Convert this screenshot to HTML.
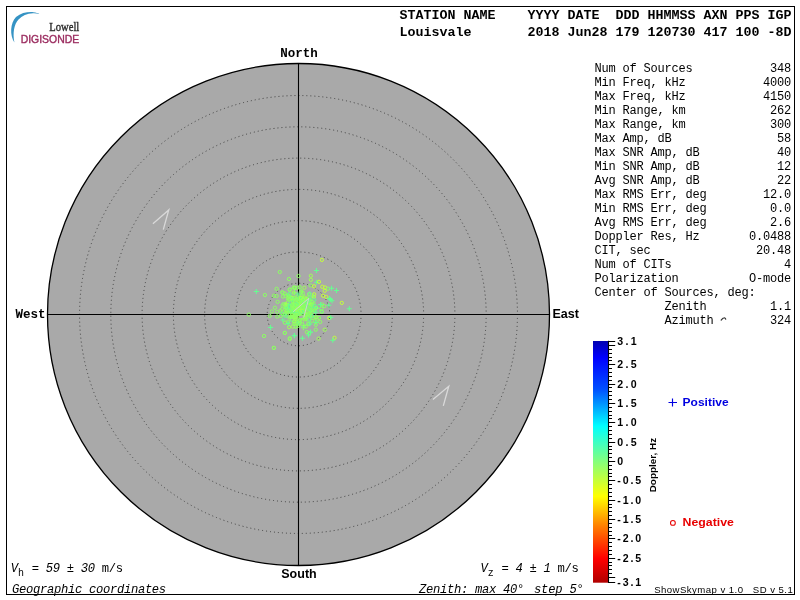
<!DOCTYPE html>
<html><head><meta charset="utf-8"><style>
html,body{margin:0;padding:0;background:#fff;width:800px;height:600px;overflow:hidden}
svg{display:block;will-change:transform}
.m{font-family:"Liberation Mono",monospace}
.s{font-family:"Liberation Sans",sans-serif}
.r{font-family:"Liberation Serif",serif}
</style></head><body>
<svg width="800" height="600" viewBox="0 0 800 600">
<rect x="0" y="0" width="800" height="600" fill="#fff"/>
<rect x="6.5" y="6.5" width="788" height="588" fill="none" stroke="#000" stroke-width="1"/>

<path d="M14.4 42.4 C 9.6 35, 10.2 23, 16 17 C 21 12.8, 28 11.7, 33.5 12.2 C 36 12.5, 38 13, 39.4 13.9 C 37 13.3, 35 13.1, 33 13.2 C 27 13.5, 22 15.5, 18.5 19.5 C 14 24.5, 12.6 33, 14.4 42.4 Z" fill="#3593c4"/>
<text class="r" x="79.3" y="31" font-size="11.6" fill="#2b2b2b" stroke="#2b2b2b" stroke-width="0.35" text-anchor="end" textLength="30" lengthAdjust="spacingAndGlyphs">Lowell</text>
<text class="s" x="79.2" y="43.2" font-size="11.6" fill="#9a2a5e" stroke="#9a2a5e" stroke-width="0.4" text-anchor="end" textLength="58.5" lengthAdjust="spacingAndGlyphs">DIGISONDE</text>
<text class="m" x="399.5" y="19" font-size="13.33" font-weight="bold" xml:space="preserve">STATION NAME    YYYY DATE  DDD HHMMSS AXN PPS IGP</text>
<text class="m" x="399.5" y="36" font-size="13.33" font-weight="bold" xml:space="preserve">Louisvale       2018 Jun28 179 120730 417 100 -8D</text>
<circle cx="298.5" cy="314.5" r="251" fill="#a9a9a9" stroke="#000" stroke-width="1.3"/>
<circle cx="298.5" cy="314.5" r="31.280" fill="none" stroke="#404040" stroke-width="1" stroke-dasharray="1 3.0110" stroke-dashoffset="0.5"/>
<circle cx="298.5" cy="314.5" r="62.560" fill="none" stroke="#404040" stroke-width="1" stroke-dasharray="1 3.0110" stroke-dashoffset="0.5"/>
<circle cx="298.5" cy="314.5" r="93.840" fill="none" stroke="#404040" stroke-width="1" stroke-dasharray="1 3.0110" stroke-dashoffset="0.5"/>
<circle cx="298.5" cy="314.5" r="125.120" fill="none" stroke="#404040" stroke-width="1" stroke-dasharray="1 2.9906" stroke-dashoffset="0.5"/>
<circle cx="298.5" cy="314.5" r="156.400" fill="none" stroke="#404040" stroke-width="1" stroke-dasharray="1 2.9947" stroke-dashoffset="0.5"/>
<circle cx="298.5" cy="314.5" r="187.680" fill="none" stroke="#404040" stroke-width="1" stroke-dasharray="1 2.9974" stroke-dashoffset="0.5"/>
<circle cx="298.5" cy="314.5" r="218.960" fill="none" stroke="#404040" stroke-width="1" stroke-dasharray="1 2.9993" stroke-dashoffset="0.5"/>
<line x1="298.5" y1="63.5" x2="298.5" y2="565.5" stroke="#000" stroke-width="1.1"/>
<line x1="47.5" y1="314.5" x2="549.5" y2="314.5" stroke="#000" stroke-width="1.1"/>
<text class="m" x="299" y="56.5" font-size="12.5" font-weight="bold" text-anchor="middle">North</text>
<text class="s" x="299" y="578" font-size="12.5" font-weight="bold" text-anchor="middle">South</text>
<text class="m" x="45.5" y="318" font-size="12.5" font-weight="bold" text-anchor="end">West</text>
<text class="s" x="552.5" y="318" font-size="12.5" font-weight="bold">East</text>
<polyline points="152.9,223.75 168.75,210 163.3,229.6" fill="none" stroke="#d9d9d9" stroke-width="1.3"/>
<polyline points="432.9,399.6 448.75,386.25 443.3,405.8" fill="none" stroke="#d9d9d9" stroke-width="1.3"/>
<path d="M285.5 311.6h5M288.0 309.1v5" stroke="#a0ff58" stroke-width="1.05"/>
<circle cx="282.1" cy="313.6" r="1.65" fill="none" stroke="#64ff90" stroke-width="1"/>
<circle cx="286.7" cy="310.0" r="1.65" fill="none" stroke="#a0ff58" stroke-width="1"/>
<circle cx="297.7" cy="311.9" r="1.65" fill="none" stroke="#8cff64" stroke-width="1"/>
<circle cx="291.5" cy="302.6" r="1.65" fill="none" stroke="#64ff90" stroke-width="1"/>
<circle cx="291.6" cy="297.3" r="1.65" fill="none" stroke="#8cff64" stroke-width="1"/>
<circle cx="304.4" cy="310.3" r="1.65" fill="none" stroke="#8cff64" stroke-width="1"/>
<circle cx="300.4" cy="299.7" r="1.65" fill="none" stroke="#8cff64" stroke-width="1"/>
<circle cx="286.2" cy="306.4" r="1.65" fill="none" stroke="#8cff64" stroke-width="1"/>
<path d="M289.5 310.0h5M292.0 307.5v5" stroke="#8cff64" stroke-width="1.05"/>
<circle cx="296.9" cy="300.0" r="1.65" fill="none" stroke="#8cff64" stroke-width="1"/>
<circle cx="310.4" cy="310.3" r="1.65" fill="none" stroke="#8cff64" stroke-width="1"/>
<path d="M301.6 300.3h5M304.1 297.8v5" stroke="#8cff64" stroke-width="1.05"/>
<circle cx="307.3" cy="311.0" r="1.65" fill="none" stroke="#a0ff58" stroke-width="1"/>
<circle cx="310.4" cy="313.9" r="1.65" fill="none" stroke="#8cff64" stroke-width="1"/>
<circle cx="295.0" cy="315.0" r="1.65" fill="none" stroke="#a0ff58" stroke-width="1"/>
<circle cx="299.2" cy="303.2" r="1.65" fill="none" stroke="#8cff64" stroke-width="1"/>
<circle cx="309.0" cy="308.7" r="1.65" fill="none" stroke="#64ff90" stroke-width="1"/>
<path d="M300.6 318.5h5M303.1 316.0v5" stroke="#8cff64" stroke-width="1.05"/>
<circle cx="291.3" cy="312.5" r="1.65" fill="none" stroke="#8cff64" stroke-width="1"/>
<path d="M314.5 308.1h5M317.0 305.6v5" stroke="#64ff90" stroke-width="1.05"/>
<circle cx="292.8" cy="326.6" r="1.65" fill="none" stroke="#a0ff58" stroke-width="1"/>
<circle cx="311.2" cy="307.7" r="1.65" fill="none" stroke="#8cff64" stroke-width="1"/>
<circle cx="305.2" cy="307.6" r="1.65" fill="none" stroke="#64ff90" stroke-width="1"/>
<circle cx="295.4" cy="315.0" r="1.65" fill="none" stroke="#8cff64" stroke-width="1"/>
<circle cx="302.3" cy="321.1" r="1.65" fill="none" stroke="#8cff64" stroke-width="1"/>
<path d="M289.7 315.5h5M292.2 313.0v5" stroke="#a0ff58" stroke-width="1.05"/>
<circle cx="301.4" cy="303.5" r="1.65" fill="none" stroke="#8cff64" stroke-width="1"/>
<circle cx="296.6" cy="314.3" r="1.65" fill="none" stroke="#8cff64" stroke-width="1"/>
<circle cx="305.9" cy="319.2" r="1.65" fill="none" stroke="#a0ff58" stroke-width="1"/>
<circle cx="308.0" cy="299.3" r="1.65" fill="none" stroke="#8cff64" stroke-width="1"/>
<circle cx="307.4" cy="315.2" r="1.65" fill="none" stroke="#a0ff58" stroke-width="1"/>
<circle cx="298.3" cy="325.7" r="1.65" fill="none" stroke="#8cff64" stroke-width="1"/>
<circle cx="303.6" cy="307.3" r="1.65" fill="none" stroke="#64ff90" stroke-width="1"/>
<path d="M291.0 302.9h5M293.5 300.4v5" stroke="#8cff64" stroke-width="1.05"/>
<circle cx="299.0" cy="304.4" r="1.65" fill="none" stroke="#8cff64" stroke-width="1"/>
<circle cx="304.2" cy="310.2" r="1.65" fill="none" stroke="#64ff90" stroke-width="1"/>
<circle cx="302.9" cy="307.3" r="1.65" fill="none" stroke="#a0ff58" stroke-width="1"/>
<circle cx="312.1" cy="306.3" r="1.65" fill="none" stroke="#64ff90" stroke-width="1"/>
<path d="M307.9 303.8h5M310.4 301.3v5" stroke="#a0ff58" stroke-width="1.05"/>
<path d="M308.3 300.1h5M310.8 297.6v5" stroke="#8cff64" stroke-width="1.05"/>
<circle cx="296.1" cy="305.8" r="1.65" fill="none" stroke="#8cff64" stroke-width="1"/>
<circle cx="309.1" cy="313.4" r="1.65" fill="none" stroke="#8cff64" stroke-width="1"/>
<circle cx="304.4" cy="287.7" r="1.65" fill="none" stroke="#a0ff58" stroke-width="1"/>
<circle cx="313.8" cy="296.8" r="1.65" fill="none" stroke="#c4ff3c" stroke-width="1"/>
<circle cx="306.7" cy="298.6" r="1.65" fill="none" stroke="#a0ff58" stroke-width="1"/>
<circle cx="298.0" cy="309.0" r="1.65" fill="none" stroke="#8cff64" stroke-width="1"/>
<circle cx="309.6" cy="297.5" r="1.65" fill="none" stroke="#64ff90" stroke-width="1"/>
<circle cx="289.3" cy="310.8" r="1.65" fill="none" stroke="#64ff90" stroke-width="1"/>
<circle cx="299.0" cy="305.7" r="1.65" fill="none" stroke="#a0ff58" stroke-width="1"/>
<circle cx="321.4" cy="311.3" r="1.65" fill="none" stroke="#64ff90" stroke-width="1"/>
<path d="M290.9 298.7h5M293.4 296.2v5" stroke="#8cff64" stroke-width="1.05"/>
<circle cx="294.7" cy="321.6" r="1.65" fill="none" stroke="#8cff64" stroke-width="1"/>
<path d="M296.7 299.3h5M299.2 296.8v5" stroke="#a0ff58" stroke-width="1.05"/>
<circle cx="305.2" cy="302.7" r="1.65" fill="none" stroke="#8cff64" stroke-width="1"/>
<circle cx="288.2" cy="295.2" r="1.65" fill="none" stroke="#8cff64" stroke-width="1"/>
<circle cx="305.5" cy="301.6" r="1.65" fill="none" stroke="#8cff64" stroke-width="1"/>
<circle cx="300.2" cy="312.9" r="1.65" fill="none" stroke="#8cff64" stroke-width="1"/>
<circle cx="298.1" cy="313.7" r="1.65" fill="none" stroke="#8cff64" stroke-width="1"/>
<circle cx="314.2" cy="299.9" r="1.65" fill="none" stroke="#64ff90" stroke-width="1"/>
<circle cx="291.2" cy="308.3" r="1.65" fill="none" stroke="#64ff90" stroke-width="1"/>
<circle cx="295.6" cy="309.1" r="1.65" fill="none" stroke="#64ff90" stroke-width="1"/>
<circle cx="312.7" cy="311.8" r="1.65" fill="none" stroke="#8cff64" stroke-width="1"/>
<circle cx="292.1" cy="298.1" r="1.65" fill="none" stroke="#a0ff58" stroke-width="1"/>
<circle cx="297.1" cy="308.6" r="1.65" fill="none" stroke="#8cff64" stroke-width="1"/>
<path d="M299.4 291.3h5M301.9 288.8v5" stroke="#8cff64" stroke-width="1.05"/>
<circle cx="287.0" cy="312.4" r="1.65" fill="none" stroke="#8cff64" stroke-width="1"/>
<circle cx="312.2" cy="304.3" r="1.65" fill="none" stroke="#a0ff58" stroke-width="1"/>
<circle cx="298.5" cy="323.0" r="1.65" fill="none" stroke="#64ff90" stroke-width="1"/>
<circle cx="297.7" cy="302.2" r="1.65" fill="none" stroke="#8cff64" stroke-width="1"/>
<circle cx="308.4" cy="323.5" r="1.65" fill="none" stroke="#8cff64" stroke-width="1"/>
<circle cx="316.8" cy="319.5" r="1.65" fill="none" stroke="#8cff64" stroke-width="1"/>
<path d="M290.8 309.9h5M293.3 307.4v5" stroke="#8cff64" stroke-width="1.05"/>
<path d="M288.2 316.6h5M290.7 314.1v5" stroke="#8cff64" stroke-width="1.05"/>
<circle cx="286.3" cy="311.1" r="1.65" fill="none" stroke="#8cff64" stroke-width="1"/>
<path d="M300.9 327.8h5M303.4 325.3v5" stroke="#8cff64" stroke-width="1.05"/>
<circle cx="283.5" cy="304.1" r="1.65" fill="none" stroke="#8cff64" stroke-width="1"/>
<circle cx="296.8" cy="311.2" r="1.65" fill="none" stroke="#64ff90" stroke-width="1"/>
<path d="M290.1 311.6h5M292.6 309.1v5" stroke="#8cff64" stroke-width="1.05"/>
<circle cx="300.2" cy="304.8" r="1.65" fill="none" stroke="#8cff64" stroke-width="1"/>
<path d="M283.1 305.0h5M285.6 302.5v5" stroke="#a0ff58" stroke-width="1.05"/>
<circle cx="305.5" cy="317.2" r="1.65" fill="none" stroke="#a0ff58" stroke-width="1"/>
<path d="M306.4 304.3h5M308.9 301.8v5" stroke="#8cff64" stroke-width="1.05"/>
<circle cx="299.5" cy="297.8" r="1.65" fill="none" stroke="#64ff90" stroke-width="1"/>
<circle cx="292.0" cy="299.1" r="1.65" fill="none" stroke="#64ff90" stroke-width="1"/>
<path d="M296.0 322.2h5M298.5 319.7v5" stroke="#64ff90" stroke-width="1.05"/>
<path d="M301.1 325.9h5M303.6 323.4v5" stroke="#64ff90" stroke-width="1.05"/>
<circle cx="297.5" cy="319.0" r="1.65" fill="none" stroke="#8cff64" stroke-width="1"/>
<circle cx="286.7" cy="307.7" r="1.65" fill="none" stroke="#8cff64" stroke-width="1"/>
<circle cx="289.9" cy="307.0" r="1.65" fill="none" stroke="#64ff90" stroke-width="1"/>
<circle cx="301.9" cy="310.9" r="1.65" fill="none" stroke="#64ff90" stroke-width="1"/>
<circle cx="301.9" cy="298.8" r="1.65" fill="none" stroke="#a0ff58" stroke-width="1"/>
<circle cx="305.7" cy="315.3" r="1.65" fill="none" stroke="#a0ff58" stroke-width="1"/>
<circle cx="294.7" cy="307.3" r="1.65" fill="none" stroke="#8cff64" stroke-width="1"/>
<circle cx="303.2" cy="305.7" r="1.65" fill="none" stroke="#8cff64" stroke-width="1"/>
<circle cx="304.1" cy="309.2" r="1.65" fill="none" stroke="#8cff64" stroke-width="1"/>
<circle cx="295.3" cy="316.0" r="1.65" fill="none" stroke="#8cff64" stroke-width="1"/>
<path d="M284.6 308.0h5M287.1 305.5v5" stroke="#64ff90" stroke-width="1.05"/>
<circle cx="299.0" cy="314.3" r="1.65" fill="none" stroke="#a0ff58" stroke-width="1"/>
<circle cx="311.6" cy="310.0" r="1.65" fill="none" stroke="#64ff90" stroke-width="1"/>
<circle cx="302.3" cy="313.4" r="1.65" fill="none" stroke="#8cff64" stroke-width="1"/>
<circle cx="285.5" cy="295.9" r="1.65" fill="none" stroke="#8cff64" stroke-width="1"/>
<circle cx="305.4" cy="303.2" r="1.65" fill="none" stroke="#8cff64" stroke-width="1"/>
<circle cx="302.7" cy="304.7" r="1.65" fill="none" stroke="#8cff64" stroke-width="1"/>
<circle cx="298.8" cy="312.3" r="1.65" fill="none" stroke="#a0ff58" stroke-width="1"/>
<circle cx="285.5" cy="304.0" r="1.65" fill="none" stroke="#8cff64" stroke-width="1"/>
<circle cx="308.6" cy="315.0" r="1.65" fill="none" stroke="#8cff64" stroke-width="1"/>
<circle cx="307.0" cy="315.5" r="1.65" fill="none" stroke="#64ff90" stroke-width="1"/>
<circle cx="316.0" cy="307.8" r="1.65" fill="none" stroke="#a0ff58" stroke-width="1"/>
<circle cx="301.0" cy="309.6" r="1.65" fill="none" stroke="#64ff90" stroke-width="1"/>
<circle cx="307.5" cy="301.9" r="1.65" fill="none" stroke="#8cff64" stroke-width="1"/>
<path d="M301.4 325.4h5M303.9 322.9v5" stroke="#8cff64" stroke-width="1.05"/>
<circle cx="294.8" cy="305.5" r="1.65" fill="none" stroke="#8cff64" stroke-width="1"/>
<circle cx="299.7" cy="299.6" r="1.65" fill="none" stroke="#64ff90" stroke-width="1"/>
<circle cx="295.2" cy="313.2" r="1.65" fill="none" stroke="#8cff64" stroke-width="1"/>
<circle cx="302.2" cy="303.0" r="1.65" fill="none" stroke="#8cff64" stroke-width="1"/>
<circle cx="294.1" cy="311.5" r="1.65" fill="none" stroke="#64ff90" stroke-width="1"/>
<circle cx="301.1" cy="299.9" r="1.65" fill="none" stroke="#a0ff58" stroke-width="1"/>
<circle cx="293.7" cy="305.4" r="1.65" fill="none" stroke="#8cff64" stroke-width="1"/>
<path d="M298.8 301.1h5M301.3 298.6v5" stroke="#8cff64" stroke-width="1.05"/>
<path d="M300.1 299.1h5M302.6 296.6v5" stroke="#64ff90" stroke-width="1.05"/>
<circle cx="293.8" cy="292.7" r="1.65" fill="none" stroke="#a0ff58" stroke-width="1"/>
<circle cx="300.5" cy="313.9" r="1.65" fill="none" stroke="#8cff64" stroke-width="1"/>
<circle cx="297.7" cy="308.3" r="1.65" fill="none" stroke="#64ff90" stroke-width="1"/>
<path d="M303.3 310.3h5M305.8 307.8v5" stroke="#8cff64" stroke-width="1.05"/>
<circle cx="292.1" cy="319.9" r="1.65" fill="none" stroke="#64ff90" stroke-width="1"/>
<circle cx="308.6" cy="313.3" r="1.65" fill="none" stroke="#8cff64" stroke-width="1"/>
<path d="M291.9 292.7h5M294.4 290.2v5" stroke="#8cff64" stroke-width="1.05"/>
<circle cx="302.2" cy="311.0" r="1.65" fill="none" stroke="#a0ff58" stroke-width="1"/>
<circle cx="296.6" cy="309.8" r="1.65" fill="none" stroke="#a0ff58" stroke-width="1"/>
<circle cx="305.9" cy="308.5" r="1.65" fill="none" stroke="#8cff64" stroke-width="1"/>
<path d="M286.3 304.5h5M288.8 302.0v5" stroke="#64ff90" stroke-width="1.05"/>
<circle cx="301.3" cy="304.4" r="1.65" fill="none" stroke="#8cff64" stroke-width="1"/>
<path d="M283.8 303.7h5M286.3 301.2v5" stroke="#a0ff58" stroke-width="1.05"/>
<circle cx="303.8" cy="305.6" r="1.65" fill="none" stroke="#8cff64" stroke-width="1"/>
<circle cx="305.9" cy="298.7" r="1.65" fill="none" stroke="#a0ff58" stroke-width="1"/>
<circle cx="307.9" cy="304.7" r="1.65" fill="none" stroke="#64ff90" stroke-width="1"/>
<circle cx="294.8" cy="318.8" r="1.65" fill="none" stroke="#8cff64" stroke-width="1"/>
<circle cx="292.2" cy="305.1" r="1.65" fill="none" stroke="#8cff64" stroke-width="1"/>
<circle cx="314.3" cy="310.7" r="1.65" fill="none" stroke="#8cff64" stroke-width="1"/>
<circle cx="287.5" cy="315.8" r="1.65" fill="none" stroke="#8cff64" stroke-width="1"/>
<path d="M296.5 305.0h5M299.0 302.5v5" stroke="#8cff64" stroke-width="1.05"/>
<circle cx="316.5" cy="317.2" r="1.65" fill="none" stroke="#a0ff58" stroke-width="1"/>
<circle cx="298.9" cy="323.9" r="1.65" fill="none" stroke="#8cff64" stroke-width="1"/>
<circle cx="312.3" cy="302.2" r="1.65" fill="none" stroke="#8cff64" stroke-width="1"/>
<circle cx="295.5" cy="305.2" r="1.65" fill="none" stroke="#a0ff58" stroke-width="1"/>
<circle cx="312.2" cy="320.7" r="1.65" fill="none" stroke="#8cff64" stroke-width="1"/>
<circle cx="305.9" cy="315.2" r="1.65" fill="none" stroke="#a0ff58" stroke-width="1"/>
<circle cx="288.6" cy="300.0" r="1.65" fill="none" stroke="#8cff64" stroke-width="1"/>
<path d="M298.4 296.5h5M300.9 294.0v5" stroke="#8cff64" stroke-width="1.05"/>
<circle cx="298.3" cy="301.0" r="1.65" fill="none" stroke="#8cff64" stroke-width="1"/>
<circle cx="301.7" cy="295.0" r="1.65" fill="none" stroke="#8cff64" stroke-width="1"/>
<circle cx="287.8" cy="298.3" r="1.65" fill="none" stroke="#8cff64" stroke-width="1"/>
<circle cx="288.9" cy="296.2" r="1.65" fill="none" stroke="#8cff64" stroke-width="1"/>
<circle cx="285.9" cy="307.8" r="1.65" fill="none" stroke="#8cff64" stroke-width="1"/>
<circle cx="298.1" cy="307.1" r="1.65" fill="none" stroke="#8cff64" stroke-width="1"/>
<circle cx="296.0" cy="304.9" r="1.65" fill="none" stroke="#8cff64" stroke-width="1"/>
<circle cx="299.7" cy="287.0" r="1.65" fill="none" stroke="#8cff64" stroke-width="1"/>
<circle cx="293.1" cy="301.3" r="1.65" fill="none" stroke="#8cff64" stroke-width="1"/>
<circle cx="293.5" cy="317.4" r="1.65" fill="none" stroke="#8cff64" stroke-width="1"/>
<circle cx="302.2" cy="298.2" r="1.65" fill="none" stroke="#8cff64" stroke-width="1"/>
<circle cx="285.0" cy="313.4" r="1.65" fill="none" stroke="#8cff64" stroke-width="1"/>
<path d="M287.6 318.1h5M290.1 315.6v5" stroke="#8cff64" stroke-width="1.05"/>
<circle cx="295.1" cy="323.5" r="1.65" fill="none" stroke="#8cff64" stroke-width="1"/>
<circle cx="291.2" cy="312.0" r="1.65" fill="none" stroke="#8cff64" stroke-width="1"/>
<circle cx="302.3" cy="309.9" r="1.65" fill="none" stroke="#a0ff58" stroke-width="1"/>
<circle cx="303.0" cy="298.3" r="1.65" fill="none" stroke="#8cff64" stroke-width="1"/>
<circle cx="304.5" cy="311.0" r="1.65" fill="none" stroke="#8cff64" stroke-width="1"/>
<circle cx="295.4" cy="297.6" r="1.65" fill="none" stroke="#8cff64" stroke-width="1"/>
<circle cx="298.0" cy="313.2" r="1.65" fill="none" stroke="#8cff64" stroke-width="1"/>
<circle cx="296.0" cy="311.5" r="1.65" fill="none" stroke="#64ff90" stroke-width="1"/>
<circle cx="282.9" cy="296.5" r="1.65" fill="none" stroke="#8cff64" stroke-width="1"/>
<circle cx="284.0" cy="314.5" r="1.65" fill="none" stroke="#8cff64" stroke-width="1"/>
<circle cx="297.6" cy="296.6" r="1.65" fill="none" stroke="#8cff64" stroke-width="1"/>
<circle cx="312.4" cy="310.2" r="1.65" fill="none" stroke="#8cff64" stroke-width="1"/>
<circle cx="298.4" cy="298.9" r="1.65" fill="none" stroke="#8cff64" stroke-width="1"/>
<circle cx="305.0" cy="297.5" r="1.65" fill="none" stroke="#a0ff58" stroke-width="1"/>
<circle cx="304.4" cy="302.7" r="1.65" fill="none" stroke="#64ff90" stroke-width="1"/>
<circle cx="303.9" cy="310.0" r="1.65" fill="none" stroke="#8cff64" stroke-width="1"/>
<circle cx="289.5" cy="294.0" r="1.65" fill="none" stroke="#64ff90" stroke-width="1"/>
<circle cx="295.1" cy="319.2" r="1.65" fill="none" stroke="#8cff64" stroke-width="1"/>
<circle cx="297.4" cy="287.7" r="1.65" fill="none" stroke="#8cff64" stroke-width="1"/>
<circle cx="312.6" cy="318.1" r="1.65" fill="none" stroke="#8cff64" stroke-width="1"/>
<circle cx="293.8" cy="317.0" r="1.65" fill="none" stroke="#8cff64" stroke-width="1"/>
<circle cx="294.1" cy="298.2" r="1.65" fill="none" stroke="#8cff64" stroke-width="1"/>
<circle cx="293.8" cy="287.6" r="1.65" fill="none" stroke="#8cff64" stroke-width="1"/>
<circle cx="308.9" cy="294.3" r="1.65" fill="none" stroke="#a0ff58" stroke-width="1"/>
<circle cx="311.4" cy="304.4" r="1.65" fill="none" stroke="#8cff64" stroke-width="1"/>
<circle cx="302.0" cy="298.6" r="1.65" fill="none" stroke="#8cff64" stroke-width="1"/>
<circle cx="299.1" cy="313.7" r="1.65" fill="none" stroke="#8cff64" stroke-width="1"/>
<circle cx="295.1" cy="316.5" r="1.65" fill="none" stroke="#8cff64" stroke-width="1"/>
<circle cx="302.1" cy="307.4" r="1.65" fill="none" stroke="#8cff64" stroke-width="1"/>
<path d="M294.8 313.2h5M297.3 310.7v5" stroke="#8cff64" stroke-width="1.05"/>
<circle cx="299.0" cy="306.2" r="1.65" fill="none" stroke="#8cff64" stroke-width="1"/>
<circle cx="296.7" cy="313.8" r="1.65" fill="none" stroke="#64ff90" stroke-width="1"/>
<circle cx="300.3" cy="323.0" r="1.65" fill="none" stroke="#8cff64" stroke-width="1"/>
<path d="M280.3 320.0h5M282.8 317.5v5" stroke="#64ff90" stroke-width="1.05"/>
<path d="M307.1 303.7h5M309.6 301.2v5" stroke="#a0ff58" stroke-width="1.05"/>
<circle cx="314.2" cy="294.3" r="1.65" fill="none" stroke="#c4ff3c" stroke-width="1"/>
<circle cx="292.7" cy="308.7" r="1.65" fill="none" stroke="#8cff64" stroke-width="1"/>
<circle cx="301.8" cy="299.1" r="1.65" fill="none" stroke="#64ff90" stroke-width="1"/>
<circle cx="301.4" cy="291.5" r="1.65" fill="none" stroke="#8cff64" stroke-width="1"/>
<path d="M310.8 295.9h5M313.3 293.4v5" stroke="#8cff64" stroke-width="1.05"/>
<circle cx="303.1" cy="293.6" r="1.65" fill="none" stroke="#8cff64" stroke-width="1"/>
<circle cx="285.6" cy="316.2" r="1.65" fill="none" stroke="#64ff90" stroke-width="1"/>
<circle cx="309.1" cy="319.5" r="1.65" fill="none" stroke="#64ff90" stroke-width="1"/>
<circle cx="294.0" cy="306.8" r="1.65" fill="none" stroke="#8cff64" stroke-width="1"/>
<circle cx="301.8" cy="312.0" r="1.65" fill="none" stroke="#64ff90" stroke-width="1"/>
<circle cx="298.2" cy="303.8" r="1.65" fill="none" stroke="#a0ff58" stroke-width="1"/>
<circle cx="312.0" cy="315.9" r="1.65" fill="none" stroke="#64ff90" stroke-width="1"/>
<circle cx="293.8" cy="323.8" r="1.65" fill="none" stroke="#8cff64" stroke-width="1"/>
<circle cx="300.9" cy="298.0" r="1.65" fill="none" stroke="#a0ff58" stroke-width="1"/>
<circle cx="293.8" cy="307.1" r="1.65" fill="none" stroke="#8cff64" stroke-width="1"/>
<circle cx="295.3" cy="316.9" r="1.65" fill="none" stroke="#a0ff58" stroke-width="1"/>
<circle cx="297.3" cy="304.9" r="1.65" fill="none" stroke="#8cff64" stroke-width="1"/>
<circle cx="306.1" cy="313.9" r="1.65" fill="none" stroke="#8cff64" stroke-width="1"/>
<circle cx="298.2" cy="306.8" r="1.65" fill="none" stroke="#a0ff58" stroke-width="1"/>
<circle cx="299.9" cy="320.2" r="1.65" fill="none" stroke="#8cff64" stroke-width="1"/>
<circle cx="309.7" cy="293.6" r="1.65" fill="none" stroke="#64ff90" stroke-width="1"/>
<path d="M303.8 318.9h5M306.3 316.4v5" stroke="#8cff64" stroke-width="1.05"/>
<circle cx="313.5" cy="303.5" r="1.65" fill="none" stroke="#8cff64" stroke-width="1"/>
<circle cx="298.8" cy="314.3" r="1.65" fill="none" stroke="#8cff64" stroke-width="1"/>
<circle cx="296.4" cy="315.1" r="1.65" fill="none" stroke="#8cff64" stroke-width="1"/>
<circle cx="290.7" cy="311.1" r="1.65" fill="none" stroke="#64ff90" stroke-width="1"/>
<circle cx="310.2" cy="316.0" r="1.65" fill="none" stroke="#8cff64" stroke-width="1"/>
<circle cx="299.9" cy="310.4" r="1.65" fill="none" stroke="#8cff64" stroke-width="1"/>
<path d="M298.4 309.4h5M300.9 306.9v5" stroke="#a0ff58" stroke-width="1.05"/>
<path d="M293.6 310.0h5M296.1 307.5v5" stroke="#a0ff58" stroke-width="1.05"/>
<circle cx="303.4" cy="305.7" r="1.65" fill="none" stroke="#8cff64" stroke-width="1"/>
<circle cx="302.8" cy="299.5" r="1.65" fill="none" stroke="#a0ff58" stroke-width="1"/>
<circle cx="288.6" cy="297.3" r="1.65" fill="none" stroke="#8cff64" stroke-width="1"/>
<circle cx="314.8" cy="306.1" r="1.65" fill="none" stroke="#64ff90" stroke-width="1"/>
<circle cx="292.1" cy="306.6" r="1.65" fill="none" stroke="#8cff64" stroke-width="1"/>
<circle cx="296.5" cy="304.3" r="1.65" fill="none" stroke="#64ff90" stroke-width="1"/>
<circle cx="295.3" cy="314.9" r="1.65" fill="none" stroke="#8cff64" stroke-width="1"/>
<circle cx="298.7" cy="319.8" r="1.65" fill="none" stroke="#8cff64" stroke-width="1"/>
<circle cx="292.6" cy="316.9" r="1.65" fill="none" stroke="#8cff64" stroke-width="1"/>
<circle cx="309.8" cy="307.1" r="1.65" fill="none" stroke="#8cff64" stroke-width="1"/>
<circle cx="297.1" cy="307.1" r="1.65" fill="none" stroke="#8cff64" stroke-width="1"/>
<circle cx="305.7" cy="316.2" r="1.65" fill="none" stroke="#8cff64" stroke-width="1"/>
<circle cx="289.1" cy="327.2" r="1.65" fill="none" stroke="#a0ff58" stroke-width="1"/>
<circle cx="306.3" cy="301.0" r="1.65" fill="none" stroke="#8cff64" stroke-width="1"/>
<circle cx="308.3" cy="301.3" r="1.65" fill="none" stroke="#64ff90" stroke-width="1"/>
<circle cx="303.7" cy="305.1" r="1.65" fill="none" stroke="#8cff64" stroke-width="1"/>
<circle cx="295.3" cy="305.1" r="1.65" fill="none" stroke="#8cff64" stroke-width="1"/>
<circle cx="295.6" cy="299.7" r="1.65" fill="none" stroke="#8cff64" stroke-width="1"/>
<circle cx="301.8" cy="302.7" r="1.65" fill="none" stroke="#8cff64" stroke-width="1"/>
<circle cx="290.2" cy="310.7" r="1.65" fill="none" stroke="#8cff64" stroke-width="1"/>
<circle cx="294.2" cy="321.3" r="1.65" fill="none" stroke="#a0ff58" stroke-width="1"/>
<circle cx="289.4" cy="299.0" r="1.65" fill="none" stroke="#8cff64" stroke-width="1"/>
<circle cx="321.9" cy="259.9" r="1.65" fill="none" stroke="#c4ff3c" stroke-width="1"/>
<path d="M313.9 270.4h5M316.4 267.9v5" stroke="#64ff90" stroke-width="1.05"/>
<circle cx="298.5" cy="276.0" r="1.65" fill="none" stroke="#8cff64" stroke-width="1"/>
<circle cx="310.9" cy="275.7" r="1.65" fill="none" stroke="#a0ff58" stroke-width="1"/>
<circle cx="310.9" cy="279.8" r="1.65" fill="none" stroke="#a0ff58" stroke-width="1"/>
<circle cx="288.9" cy="279.0" r="1.65" fill="none" stroke="#8cff64" stroke-width="1"/>
<circle cx="279.8" cy="272.0" r="1.65" fill="none" stroke="#8cff64" stroke-width="1"/>
<path d="M314.1 282.2h5M316.6 279.7v5" stroke="#64ff90" stroke-width="1.05"/>
<circle cx="319.0" cy="281.8" r="1.65" fill="none" stroke="#c4ff3c" stroke-width="1"/>
<circle cx="294.6" cy="287.5" r="1.65" fill="none" stroke="#8cff64" stroke-width="1"/>
<circle cx="289.8" cy="289.5" r="1.65" fill="none" stroke="#8cff64" stroke-width="1"/>
<circle cx="282.4" cy="292.4" r="1.65" fill="none" stroke="#8cff64" stroke-width="1"/>
<circle cx="284.9" cy="293.6" r="1.65" fill="none" stroke="#8cff64" stroke-width="1"/>
<circle cx="310.5" cy="285.5" r="1.65" fill="none" stroke="#8cff64" stroke-width="1"/>
<circle cx="314.0" cy="286.3" r="1.65" fill="none" stroke="#c4ff3c" stroke-width="1"/>
<circle cx="322.3" cy="286.7" r="1.65" fill="none" stroke="#c4ff3c" stroke-width="1"/>
<circle cx="325.1" cy="287.5" r="1.65" fill="none" stroke="#c4ff3c" stroke-width="1"/>
<circle cx="328.0" cy="288.7" r="1.65" fill="none" stroke="#8cff64" stroke-width="1"/>
<circle cx="324.7" cy="290.8" r="1.65" fill="none" stroke="#c4ff3c" stroke-width="1"/>
<path d="M329.1 288.3h5M331.6 285.8v5" stroke="#64ff90" stroke-width="1.05"/>
<path d="M334.0 290.4h5M336.5 287.9v5" stroke="#64ff90" stroke-width="1.05"/>
<circle cx="323.0" cy="295.7" r="1.65" fill="none" stroke="#c4ff3c" stroke-width="1"/>
<circle cx="326.3" cy="296.9" r="1.65" fill="none" stroke="#c4ff3c" stroke-width="1"/>
<path d="M327.1 298.5h5M329.6 296.0v5" stroke="#64ff90" stroke-width="1.05"/>
<circle cx="341.8" cy="302.9" r="1.65" fill="none" stroke="#c4ff3c" stroke-width="1"/>
<path d="M329.5 300.8h5M332.0 298.3v5" stroke="#64ff90" stroke-width="1.05"/>
<path d="M327.9 299.6h5M330.4 297.1v5" stroke="#64ff90" stroke-width="1.05"/>
<path d="M326.3 305.3h5M328.8 302.8v5" stroke="#64ff90" stroke-width="1.05"/>
<circle cx="322.3" cy="304.5" r="1.65" fill="none" stroke="#8cff64" stroke-width="1"/>
<circle cx="324.3" cy="306.1" r="1.65" fill="none" stroke="#8cff64" stroke-width="1"/>
<circle cx="321.5" cy="308.6" r="1.65" fill="none" stroke="#8cff64" stroke-width="1"/>
<circle cx="321.9" cy="311.8" r="1.65" fill="none" stroke="#8cff64" stroke-width="1"/>
<path d="M318.1 304.5h5M320.6 302.0v5" stroke="#64ff90" stroke-width="1.05"/>
<path d="M313.3 312.2h5M315.8 309.7v5" stroke="#64ff90" stroke-width="1.05"/>
<circle cx="329.2" cy="317.9" r="1.65" fill="none" stroke="#c4ff3c" stroke-width="1"/>
<path d="M328.3 317.5h5M330.8 315.0v5" stroke="#64ff90" stroke-width="1.05"/>
<circle cx="315.8" cy="317.5" r="1.65" fill="none" stroke="#8cff64" stroke-width="1"/>
<circle cx="319.0" cy="317.9" r="1.65" fill="none" stroke="#8cff64" stroke-width="1"/>
<circle cx="320.2" cy="322.0" r="1.65" fill="none" stroke="#8cff64" stroke-width="1"/>
<path d="M313.3 322.4h5M315.8 319.9v5" stroke="#64ff90" stroke-width="1.05"/>
<circle cx="315.8" cy="324.8" r="1.65" fill="none" stroke="#8cff64" stroke-width="1"/>
<circle cx="306.0" cy="326.5" r="1.65" fill="none" stroke="#8cff64" stroke-width="1"/>
<circle cx="308.5" cy="324.0" r="1.65" fill="none" stroke="#8cff64" stroke-width="1"/>
<path d="M307.5 324.0h5M310.0 321.5v5" stroke="#64ff90" stroke-width="1.05"/>
<circle cx="295.9" cy="326.5" r="1.65" fill="none" stroke="#8cff64" stroke-width="1"/>
<circle cx="284.9" cy="322.8" r="1.65" fill="none" stroke="#8cff64" stroke-width="1"/>
<circle cx="288.1" cy="321.6" r="1.65" fill="none" stroke="#8cff64" stroke-width="1"/>
<path d="M285.6 323.6h5M288.1 321.1v5" stroke="#64ff90" stroke-width="1.05"/>
<circle cx="315.8" cy="329.7" r="1.65" fill="none" stroke="#8cff64" stroke-width="1"/>
<circle cx="324.7" cy="329.7" r="1.65" fill="none" stroke="#a0ff58" stroke-width="1"/>
<circle cx="306.8" cy="332.1" r="1.65" fill="none" stroke="#8cff64" stroke-width="1"/>
<circle cx="309.3" cy="333.0" r="1.65" fill="none" stroke="#8cff64" stroke-width="1"/>
<path d="M308.0 332.1h5M310.5 329.6v5" stroke="#64ff90" stroke-width="1.05"/>
<path d="M306.0 335.0h5M308.5 332.5v5" stroke="#64ff90" stroke-width="1.05"/>
<circle cx="284.9" cy="333.0" r="1.65" fill="none" stroke="#8cff64" stroke-width="1"/>
<path d="M291.7 335.4h5M294.2 332.9v5" stroke="#64ff90" stroke-width="1.05"/>
<circle cx="289.8" cy="338.2" r="1.65" fill="none" stroke="#8cff64" stroke-width="1"/>
<path d="M299.9 338.2h5M302.4 335.7v5" stroke="#64ff90" stroke-width="1.05"/>
<circle cx="318.6" cy="338.6" r="1.65" fill="none" stroke="#a0ff58" stroke-width="1"/>
<circle cx="334.5" cy="337.8" r="1.65" fill="none" stroke="#c4ff3c" stroke-width="1"/>
<path d="M330.3 340.3h5M332.8 337.8v5" stroke="#64ff90" stroke-width="1.05"/>
<path d="M346.8 308.7h5M349.3 306.2v5" stroke="#64ff90" stroke-width="1.05"/>
<circle cx="264.0" cy="336.0" r="1.65" fill="none" stroke="#8cff64" stroke-width="1"/>
<path d="M268.1 327.4h5M270.6 324.9v5" stroke="#64ff90" stroke-width="1.05"/>
<circle cx="274.0" cy="348.0" r="1.65" fill="none" stroke="#8cff64" stroke-width="1"/>
<path d="M253.8 291.5h5M256.3 289.0v5" stroke="#64ff90" stroke-width="1.05"/>
<circle cx="264.9" cy="295.0" r="1.65" fill="none" stroke="#8cff64" stroke-width="1"/>
<circle cx="276.6" cy="288.8" r="1.65" fill="none" stroke="#8cff64" stroke-width="1"/>
<circle cx="273.9" cy="295.7" r="1.65" fill="none" stroke="#8cff64" stroke-width="1"/>
<circle cx="276.6" cy="296.0" r="1.65" fill="none" stroke="#8cff64" stroke-width="1"/>
<circle cx="277.6" cy="301.8" r="1.65" fill="none" stroke="#8cff64" stroke-width="1"/>
<circle cx="274.9" cy="307.7" r="1.65" fill="none" stroke="#8cff64" stroke-width="1"/>
<circle cx="282.5" cy="305.6" r="1.65" fill="none" stroke="#8cff64" stroke-width="1"/>
<circle cx="271.8" cy="311.5" r="1.65" fill="none" stroke="#8cff64" stroke-width="1"/>
<circle cx="277.3" cy="311.8" r="1.65" fill="none" stroke="#8cff64" stroke-width="1"/>
<circle cx="280.7" cy="310.4" r="1.65" fill="none" stroke="#8cff64" stroke-width="1"/>
<circle cx="282.1" cy="309.1" r="1.65" fill="none" stroke="#8cff64" stroke-width="1"/>
<circle cx="248.8" cy="314.6" r="1.65" fill="none" stroke="#8cff64" stroke-width="1"/>
<circle cx="269.7" cy="315.9" r="1.65" fill="none" stroke="#8cff64" stroke-width="1"/>
<circle cx="277.3" cy="316.6" r="1.65" fill="none" stroke="#8cff64" stroke-width="1"/>
<circle cx="280.7" cy="315.9" r="1.65" fill="none" stroke="#8cff64" stroke-width="1"/>
<circle cx="282.5" cy="292.6" r="1.65" fill="none" stroke="#8cff64" stroke-width="1"/>
<circle cx="289.7" cy="289.8" r="1.65" fill="none" stroke="#8cff64" stroke-width="1"/>
<circle cx="294.8" cy="288.1" r="1.65" fill="none" stroke="#8cff64" stroke-width="1"/>
<path d="M295.5 294.0h5M298.0 291.5v5" stroke="#64ff90" stroke-width="1.05"/>
<circle cx="273.8" cy="347.8" r="1.65" fill="none" stroke="#8cff64" stroke-width="1"/>
<circle cx="295.8" cy="326.8" r="1.65" fill="none" stroke="#8cff64" stroke-width="1"/>
<circle cx="289.8" cy="339.0" r="1.65" fill="none" stroke="#8cff64" stroke-width="1"/>
<path d="M292.0 335.8h5M294.5 333.3v5" stroke="#64ff90" stroke-width="1.05"/>
<circle cx="284.8" cy="332.8" r="1.65" fill="none" stroke="#8cff64" stroke-width="1"/>
<polyline points="293.3,311.7 308.75,298.3 303.75,317.5" fill="none" stroke="#d2d2d2" stroke-width="1"/>
<text class="m" x="594.5" y="71.80" font-size="12" letter-spacing="-0.2" xml:space="preserve">Num of Sources</text>
<text class="m" x="791" y="71.80" font-size="12" letter-spacing="-0.2" text-anchor="end">348</text>
<text class="m" x="594.5" y="85.80" font-size="12" letter-spacing="-0.2" xml:space="preserve">Min Freq, kHz</text>
<text class="m" x="791" y="85.80" font-size="12" letter-spacing="-0.2" text-anchor="end">4000</text>
<text class="m" x="594.5" y="99.80" font-size="12" letter-spacing="-0.2" xml:space="preserve">Max Freq, kHz</text>
<text class="m" x="791" y="99.80" font-size="12" letter-spacing="-0.2" text-anchor="end">4150</text>
<text class="m" x="594.5" y="113.80" font-size="12" letter-spacing="-0.2" xml:space="preserve">Min Range, km</text>
<text class="m" x="791" y="113.80" font-size="12" letter-spacing="-0.2" text-anchor="end">262</text>
<text class="m" x="594.5" y="127.80" font-size="12" letter-spacing="-0.2" xml:space="preserve">Max Range, km</text>
<text class="m" x="791" y="127.80" font-size="12" letter-spacing="-0.2" text-anchor="end">300</text>
<text class="m" x="594.5" y="141.80" font-size="12" letter-spacing="-0.2" xml:space="preserve">Max Amp, dB</text>
<text class="m" x="791" y="141.80" font-size="12" letter-spacing="-0.2" text-anchor="end">58</text>
<text class="m" x="594.5" y="155.80" font-size="12" letter-spacing="-0.2" xml:space="preserve">Max SNR Amp, dB</text>
<text class="m" x="791" y="155.80" font-size="12" letter-spacing="-0.2" text-anchor="end">40</text>
<text class="m" x="594.5" y="169.80" font-size="12" letter-spacing="-0.2" xml:space="preserve">Min SNR Amp, dB</text>
<text class="m" x="791" y="169.80" font-size="12" letter-spacing="-0.2" text-anchor="end">12</text>
<text class="m" x="594.5" y="183.80" font-size="12" letter-spacing="-0.2" xml:space="preserve">Avg SNR Amp, dB</text>
<text class="m" x="791" y="183.80" font-size="12" letter-spacing="-0.2" text-anchor="end">22</text>
<text class="m" x="594.5" y="197.80" font-size="12" letter-spacing="-0.2" xml:space="preserve">Max RMS Err, deg</text>
<text class="m" x="791" y="197.80" font-size="12" letter-spacing="-0.2" text-anchor="end">12.0</text>
<text class="m" x="594.5" y="211.80" font-size="12" letter-spacing="-0.2" xml:space="preserve">Min RMS Err, deg</text>
<text class="m" x="791" y="211.80" font-size="12" letter-spacing="-0.2" text-anchor="end">0.0</text>
<text class="m" x="594.5" y="225.80" font-size="12" letter-spacing="-0.2" xml:space="preserve">Avg RMS Err, deg</text>
<text class="m" x="791" y="225.80" font-size="12" letter-spacing="-0.2" text-anchor="end">2.6</text>
<text class="m" x="594.5" y="239.80" font-size="12" letter-spacing="-0.2" xml:space="preserve">Doppler Res, Hz</text>
<text class="m" x="791" y="239.80" font-size="12" letter-spacing="-0.2" text-anchor="end">0.0488</text>
<text class="m" x="594.5" y="253.80" font-size="12" letter-spacing="-0.2" xml:space="preserve">CIT, sec</text>
<text class="m" x="791" y="253.80" font-size="12" letter-spacing="-0.2" text-anchor="end">20.48</text>
<text class="m" x="594.5" y="267.80" font-size="12" letter-spacing="-0.2" xml:space="preserve">Num of CITs</text>
<text class="m" x="791" y="267.80" font-size="12" letter-spacing="-0.2" text-anchor="end">4</text>
<text class="m" x="594.5" y="281.80" font-size="12" letter-spacing="-0.2" xml:space="preserve">Polarization</text>
<text class="m" x="791" y="281.80" font-size="12" letter-spacing="-0.2" text-anchor="end">O-mode</text>
<text class="m" x="594.5" y="295.80" font-size="12" letter-spacing="-0.2" xml:space="preserve">Center of Sources, deg:</text>
<text class="m" x="594.5" y="309.80" font-size="12" letter-spacing="-0.2" xml:space="preserve">          Zenith</text>
<text class="m" x="791" y="309.80" font-size="12" letter-spacing="-0.2" text-anchor="end">1.1</text>
<text class="m" x="594.5" y="323.80" font-size="12" letter-spacing="-0.2" xml:space="preserve">          Azimuth</text>
<text class="m" x="791" y="323.80" font-size="12" letter-spacing="-0.2" text-anchor="end">324</text>
<path d="M720.8 320.4 C 722 319.6, 722.6 318.2, 723.8 317.9 C 724.8 317.6, 725.6 318.2, 725.8 319.6" fill="none" stroke="#333" stroke-width="1.2"/>
<defs><linearGradient id="cb" x1="0" y1="0" x2="0" y2="1">
<stop offset="0" stop-color="#0000b0"/>
<stop offset="0.069" stop-color="#0000ff"/>
<stop offset="0.20" stop-color="#0050ff"/>
<stop offset="0.352" stop-color="#00ffff"/>
<stop offset="0.494" stop-color="#80ff80"/>
<stop offset="0.643" stop-color="#ffff00"/>
<stop offset="0.765" stop-color="#ff8000"/>
<stop offset="0.90" stop-color="#ff0000"/>
<stop offset="1" stop-color="#b00000"/>
</linearGradient></defs>
<rect x="593" y="341" width="15" height="241.7" fill="url(#cb)"/>
<line x1="608.5" y1="340.8" x2="608.5" y2="583" stroke="#000" stroke-width="1.1"/>
<line x1="608" y1="582.50" x2="615.2" y2="582.50" stroke="#000" stroke-width="1"/>
<line x1="608" y1="577.50" x2="615.2" y2="577.50" stroke="#000" stroke-width="1"/>
<line x1="608" y1="573.50" x2="612" y2="573.50" stroke="#000" stroke-width="1"/>
<line x1="608" y1="569.50" x2="612" y2="569.50" stroke="#000" stroke-width="1"/>
<line x1="608" y1="565.50" x2="612" y2="565.50" stroke="#000" stroke-width="1"/>
<line x1="608" y1="562.50" x2="612" y2="562.50" stroke="#000" stroke-width="1"/>
<line x1="608" y1="558.50" x2="615.2" y2="558.50" stroke="#000" stroke-width="1"/>
<line x1="608" y1="554.50" x2="612" y2="554.50" stroke="#000" stroke-width="1"/>
<line x1="608" y1="550.50" x2="612" y2="550.50" stroke="#000" stroke-width="1"/>
<line x1="608" y1="546.50" x2="612" y2="546.50" stroke="#000" stroke-width="1"/>
<line x1="608" y1="542.50" x2="612" y2="542.50" stroke="#000" stroke-width="1"/>
<line x1="608" y1="538.50" x2="615.2" y2="538.50" stroke="#000" stroke-width="1"/>
<line x1="608" y1="535.50" x2="612" y2="535.50" stroke="#000" stroke-width="1"/>
<line x1="608" y1="531.50" x2="612" y2="531.50" stroke="#000" stroke-width="1"/>
<line x1="608" y1="527.50" x2="612" y2="527.50" stroke="#000" stroke-width="1"/>
<line x1="608" y1="523.50" x2="612" y2="523.50" stroke="#000" stroke-width="1"/>
<line x1="608" y1="519.50" x2="615.2" y2="519.50" stroke="#000" stroke-width="1"/>
<line x1="608" y1="515.50" x2="612" y2="515.50" stroke="#000" stroke-width="1"/>
<line x1="608" y1="511.50" x2="612" y2="511.50" stroke="#000" stroke-width="1"/>
<line x1="608" y1="507.50" x2="612" y2="507.50" stroke="#000" stroke-width="1"/>
<line x1="608" y1="504.50" x2="612" y2="504.50" stroke="#000" stroke-width="1"/>
<line x1="608" y1="500.50" x2="615.2" y2="500.50" stroke="#000" stroke-width="1"/>
<line x1="608" y1="496.50" x2="612" y2="496.50" stroke="#000" stroke-width="1"/>
<line x1="608" y1="492.50" x2="612" y2="492.50" stroke="#000" stroke-width="1"/>
<line x1="608" y1="488.50" x2="612" y2="488.50" stroke="#000" stroke-width="1"/>
<line x1="608" y1="484.50" x2="612" y2="484.50" stroke="#000" stroke-width="1"/>
<line x1="608" y1="480.50" x2="615.2" y2="480.50" stroke="#000" stroke-width="1"/>
<line x1="608" y1="476.50" x2="612" y2="476.50" stroke="#000" stroke-width="1"/>
<line x1="608" y1="473.50" x2="612" y2="473.50" stroke="#000" stroke-width="1"/>
<line x1="608" y1="469.50" x2="612" y2="469.50" stroke="#000" stroke-width="1"/>
<line x1="608" y1="465.50" x2="612" y2="465.50" stroke="#000" stroke-width="1"/>
<line x1="608" y1="461.50" x2="615.2" y2="461.50" stroke="#000" stroke-width="1"/>
<line x1="608" y1="457.50" x2="612" y2="457.50" stroke="#000" stroke-width="1"/>
<line x1="608" y1="453.50" x2="612" y2="453.50" stroke="#000" stroke-width="1"/>
<line x1="608" y1="449.50" x2="612" y2="449.50" stroke="#000" stroke-width="1"/>
<line x1="608" y1="446.50" x2="612" y2="446.50" stroke="#000" stroke-width="1"/>
<line x1="608" y1="442.50" x2="615.2" y2="442.50" stroke="#000" stroke-width="1"/>
<line x1="608" y1="438.50" x2="612" y2="438.50" stroke="#000" stroke-width="1"/>
<line x1="608" y1="434.50" x2="612" y2="434.50" stroke="#000" stroke-width="1"/>
<line x1="608" y1="430.50" x2="612" y2="430.50" stroke="#000" stroke-width="1"/>
<line x1="608" y1="426.50" x2="612" y2="426.50" stroke="#000" stroke-width="1"/>
<line x1="608" y1="422.50" x2="615.2" y2="422.50" stroke="#000" stroke-width="1"/>
<line x1="608" y1="418.50" x2="612" y2="418.50" stroke="#000" stroke-width="1"/>
<line x1="608" y1="415.50" x2="612" y2="415.50" stroke="#000" stroke-width="1"/>
<line x1="608" y1="411.50" x2="612" y2="411.50" stroke="#000" stroke-width="1"/>
<line x1="608" y1="407.50" x2="612" y2="407.50" stroke="#000" stroke-width="1"/>
<line x1="608" y1="403.50" x2="615.2" y2="403.50" stroke="#000" stroke-width="1"/>
<line x1="608" y1="399.50" x2="612" y2="399.50" stroke="#000" stroke-width="1"/>
<line x1="608" y1="395.50" x2="612" y2="395.50" stroke="#000" stroke-width="1"/>
<line x1="608" y1="391.50" x2="612" y2="391.50" stroke="#000" stroke-width="1"/>
<line x1="608" y1="387.50" x2="612" y2="387.50" stroke="#000" stroke-width="1"/>
<line x1="608" y1="384.50" x2="615.2" y2="384.50" stroke="#000" stroke-width="1"/>
<line x1="608" y1="380.50" x2="612" y2="380.50" stroke="#000" stroke-width="1"/>
<line x1="608" y1="376.50" x2="612" y2="376.50" stroke="#000" stroke-width="1"/>
<line x1="608" y1="372.50" x2="612" y2="372.50" stroke="#000" stroke-width="1"/>
<line x1="608" y1="368.50" x2="612" y2="368.50" stroke="#000" stroke-width="1"/>
<line x1="608" y1="364.50" x2="615.2" y2="364.50" stroke="#000" stroke-width="1"/>
<line x1="608" y1="360.50" x2="612" y2="360.50" stroke="#000" stroke-width="1"/>
<line x1="608" y1="357.50" x2="612" y2="357.50" stroke="#000" stroke-width="1"/>
<line x1="608" y1="353.50" x2="612" y2="353.50" stroke="#000" stroke-width="1"/>
<line x1="608" y1="349.50" x2="612" y2="349.50" stroke="#000" stroke-width="1"/>
<line x1="608" y1="345.50" x2="615.2" y2="345.50" stroke="#000" stroke-width="1"/>
<line x1="608" y1="341.50" x2="615.2" y2="341.50" stroke="#000" stroke-width="1"/>
<text class="s" x="617.3" y="345.05" font-size="10.6" font-weight="bold" textLength="19.31" lengthAdjust="spacing">3.1</text>
<text class="s" x="617.3" y="368.05" font-size="10.6" font-weight="bold" textLength="19.31" lengthAdjust="spacing">2.5</text>
<text class="s" x="617.3" y="388.05" font-size="10.6" font-weight="bold" textLength="19.31" lengthAdjust="spacing">2.0</text>
<text class="s" x="617.3" y="407.05" font-size="10.6" font-weight="bold" textLength="19.31" lengthAdjust="spacing">1.5</text>
<text class="s" x="617.3" y="426.05" font-size="10.6" font-weight="bold" textLength="19.31" lengthAdjust="spacing">1.0</text>
<text class="s" x="617.3" y="446.05" font-size="10.6" font-weight="bold" textLength="19.31" lengthAdjust="spacing">0.5</text>
<text class="s" x="617.3" y="465.05" font-size="10.6" font-weight="bold" textLength="7.58" lengthAdjust="spacing">0</text>
<text class="s" x="617.3" y="484.05" font-size="10.6" font-weight="bold" textLength="23.83" lengthAdjust="spacing">-0.5</text>
<text class="s" x="617.3" y="504.05" font-size="10.6" font-weight="bold" textLength="23.83" lengthAdjust="spacing">-1.0</text>
<text class="s" x="617.3" y="523.05" font-size="10.6" font-weight="bold" textLength="23.83" lengthAdjust="spacing">-1.5</text>
<text class="s" x="617.3" y="542.05" font-size="10.6" font-weight="bold" textLength="23.83" lengthAdjust="spacing">-2.0</text>
<text class="s" x="617.3" y="562.05" font-size="10.6" font-weight="bold" textLength="23.83" lengthAdjust="spacing">-2.5</text>
<text class="s" x="617.3" y="586.05" font-size="10.6" font-weight="bold" textLength="23.83" lengthAdjust="spacing">-3.1</text>
<text class="s" transform="translate(655.8,492.3) rotate(-90)" font-size="8.8" font-weight="bold" textLength="54.5" lengthAdjust="spacingAndGlyphs">Doppler, Hz</text>
<path d="M668.5 402.5h8.5M672.5 398.5v8" stroke="#0000e0" stroke-width="1.15"/>
<text class="s" x="682.6" y="406" font-size="10.2" font-weight="bold" fill="#0000e0" textLength="46" lengthAdjust="spacingAndGlyphs">Positive</text>
<circle cx="672.9" cy="522.9" r="2.4" fill="none" stroke="#e80000" stroke-width="1.05"/>
<text class="s" x="682.6" y="526" font-size="10.2" font-weight="bold" fill="#e80000" textLength="51.2" lengthAdjust="spacingAndGlyphs">Negative</text>
<text class="m" font-size="12.2" font-style="italic" letter-spacing="-0.32" x="10.8" y="572">V</text>
<text class="m" x="18.10" y="575.60" font-size="10" letter-spacing="-0.3">h</text>
<text class="m" font-size="12.2" letter-spacing="-0.32" x="24.80" y="572" xml:space="preserve"><tspan font-style="normal"> = </tspan><tspan font-style="italic">59</tspan><tspan font-style="normal"> ± </tspan><tspan font-style="italic">30</tspan><tspan font-style="normal"> m/s</tspan></text>
<text class="m" font-size="12.2" font-style="italic" letter-spacing="-0.32" x="12" y="592.5">Geographic coordinates</text>
<text class="m" font-size="12.2" font-style="italic" letter-spacing="-0.32" x="480.5" y="572">V</text>
<text class="m" x="487.80" y="575.60" font-size="10" letter-spacing="-0.3">z</text>
<text class="m" font-size="12.2" letter-spacing="-0.32" x="494.50" y="572" xml:space="preserve"><tspan font-style="normal"> = </tspan><tspan font-style="italic">4</tspan><tspan font-style="normal"> ± </tspan><tspan font-style="italic">1</tspan><tspan font-style="normal"> m/s</tspan></text>
<text class="m" font-size="12.2" font-style="italic" letter-spacing="-0.32" x="419" y="592.5">Zenith: max 40°</text>
<text class="m" font-size="12.2" font-style="italic" letter-spacing="-0.32" x="534" y="592.5" textLength="49.5" lengthAdjust="spacing">step 5°</text>
<text class="s" x="654.2" y="592.8" font-size="9.6" textLength="138.6" lengthAdjust="spacing" xml:space="preserve">ShowSkymap v 1.0   SD v 5.1</text>
</svg></body></html>
